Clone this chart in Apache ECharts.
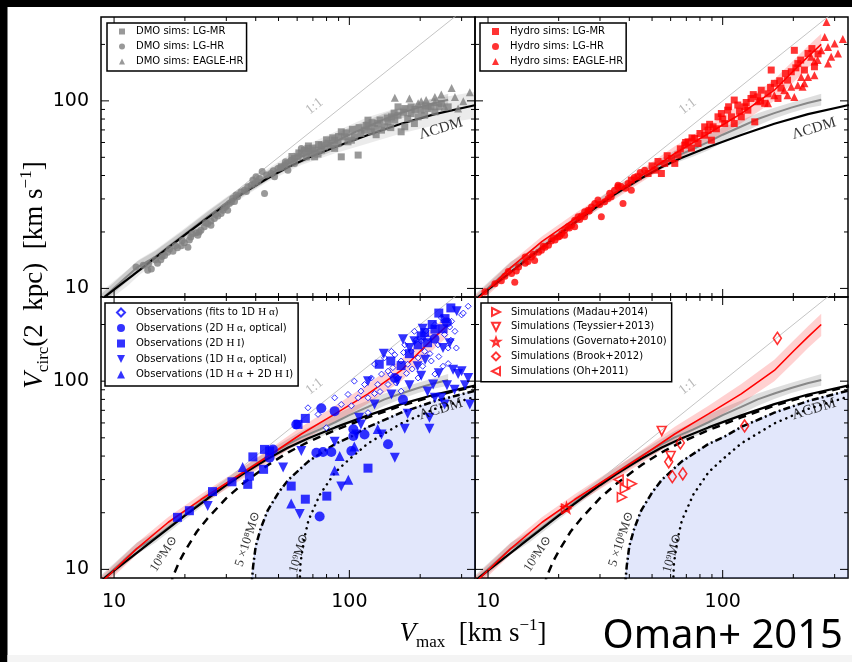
<!DOCTYPE html>
<html><head><meta charset="utf-8">
<script src="https://cdn.jsdelivr.net/npm/echarts@6/dist/echarts.min.js"></script>
<style>html,body{margin:0;padding:0;background:#fff}#c{width:852px;height:662px}</style>
</head><body><div id="c"></div><script>
// ---------- axes ----------
const X_MIN = 8.8, X_MAX = 342, Y_MIN = 9.0, Y_MAX = 280;
const xMajorTicks = [10, 100];
const xMinorTicks = [20, 30, 40, 50, 60, 70, 80, 90, 200, 300];
const yMajorTicks = [10, 100];
const yMinorTicks = [20, 30, 40, 50, 60, 70, 80, 90, 200];
const oneToOne = [8, 400];

// ---------- curves ----------
const lcdmX = [8.8, 10, 12, 15, 20, 25, 30, 35, 40, 45, 55, 67, 87, 120, 166, 231, 345];
const lcdmY = [8.7, 9.85, 11.75, 14.6, 19.3, 23.8, 28.0, 31.9, 35.4, 38.7, 44.4, 49.8, 56.8, 65.8, 75.5, 85.0, 95.0];

const dmoX  = [8.8, 11, 12.5, 15, 20, 25, 30, 35, 45, 55, 62.5, 75, 87, 100, 120, 141, 166, 196, 230, 263];
const dmoY  = [8.7, 11.2, 12.9, 14.8, 19.5, 24.2, 28.6, 32.6, 40.0, 46.3, 50.3, 55.5, 60.5, 66, 73, 80, 86, 92, 97.5, 101.5];
const dmoLo = [8.2, 10.5, 12.0, 13.9, 18.4, 22.8, 27.0, 30.8, 37.6, 43.2, 46.5, 50.5, 54.5, 60, 67, 74, 80.5, 86.5, 91.5, 94.5];
const dmoHi = [9.3, 12.0, 13.9, 15.9, 20.7, 25.7, 30.3, 34.6, 42.5, 49.5, 54.3, 60.5, 66.5, 72, 79, 86, 92, 98, 104, 109];

const dmoWideX  = [8.8, 11.5, 12.8, 15, 20, 25, 30, 35, 45, 62.5, 87, 120, 166, 231, 345];
const dmoWideHi = [9.6, 12.7, 14.3, 16.1, 21.0, 26.0, 30.7, 35.0, 43.5, 56.5, 68.5, 82, 93, 103, 112];
const dmoWideLo = [8.0, 10.4, 11.8, 13.6, 18.0, 22.3, 26.5, 30.3, 37.0, 45.5, 52.5, 59.3, 67, 74.2, 81];

const hydX  = [8.8, 12.5, 17, 23.4, 32.5, 45, 62.5, 87, 120, 166, 202, 231, 263];
const hydY  = [8.5, 12.9, 17.8, 23.5, 30.6, 39.8, 52.4, 67, 85.6, 114, 146, 172, 200];
const hydLo = [7.9, 12.0, 16.6, 21.9, 28.4, 36.8, 48, 60.5, 76, 100, 127, 150, 174];
const hydHi = [9.1, 13.8, 19.0, 25.1, 32.8, 43.0, 57.2, 74, 96.5, 130, 166, 196, 228];

const m8X = [17.3, 18, 19, 20, 22.5, 25, 30, 35, 45, 55, 67, 87, 120, 166, 231, 345];
const m8Y = [8.2, 9.5, 11.1, 12.5, 15.9, 18.7, 23.9, 28.3, 35.8, 41.9, 47.6, 54.9, 64.2, 74.1, 83.7, 93.9];
const m5X = [38.4, 39, 40, 42, 45, 50, 55, 67, 87, 102, 120, 166, 231, 345];
const m5Y = [8.3, 10.4, 13.3, 16.5, 20.6, 25.6, 29.9, 37.5, 46.4, 50.8, 57.1, 68.0, 78.4, 89.2];
const m9X = [61.5, 62, 64, 67, 75, 87, 100, 120, 166, 231, 345];
const m9Y = [8.5, 10.8, 14.2, 18.2, 25.0, 32.8, 38.5, 46.7, 59.6, 71.2, 82.9];

// ---------- DMO points (top left) ----------
const dmoSquares = [[51.4,44.5],[54.8,46.4],[58.5,49.3],[60.5,50.3],[62.5,52.4],[64.5,54.6],[65.6,50.3],[68.9,52.4],[71.2,54.6],[73.6,52.0],[76.0,54.6],[78.5,56.9],[81.1,59.3],[83.8,58.1],[86.6,61.7],[89.5,59.3],[92.4,50.3],[92.4,68.4],[95.5,64.3],[98.7,60.5],[102,61.7],[105,64.3],[109,51.4],[112,67.0],[116,69.8],[120,78.9],[120,72.7],[124,68.4],[128,71.2],[132,75.7],[137,69.8],[141,72.7],[146,77.3],[151,82.2],[156,78.9],[161,83.9],[166,68.4],[172,72.7],[177,80.5],[183,85.6],[189,75.7],[196,82.2],[202,89.2],[209,83.9],[216,91.0],[223,92.9],[231,87.4],[246,97.0],[263,92.9],[161,92.9],[172,91.0],[183,92.9],[71.2,50.3],[76,58.1],[86.6,55.8],[66.7,55.8],
  [57,50.5],[61,52.8],[67,57.5],[70,56],[74,58.5],[80,62.0],[85,63.5],[90,64.5],[97,67.5],[103,70.5],[110,72],[118,74],[125,76.5],[135,79],[145,81],[155,86],[170,87],[190,90],[210,94],[240,93],[150,72],[130,66]];
const dmoCircles = [[12.4,13.0],[13.3,13.3],[13.9,12.5],[14.4,12.7],[15.3,13.6],[15.8,14.2],[16.4,15.0],[16.9,15.6],[17.8,15.8],[18.6,16.5],[19.3,16.9],[19.9,17.5],[20.6,16.6],[20.9,18.1],[21.2,18.8],[22.3,19.8],[22.7,19.2],[23.0,20.0],[23.4,20.4],[24.2,21.3],[25.0,22.2],[25.8,21.7],[25.8,22.9],[26.7,23.6],[27.6,24.3],[28.5,25.1],[29.0,26.1],[30.0,27.4],[30.4,26.1],[30.9,28.4],[31.9,30.2],[32.5,29.1],[33.5,30.8],[34.6,32.7],[35.8,33.4],[37.0,34.8],[38.3,35.5],[38.9,37.8],[40.1,39.4],[40.8,37.1],[42.6,42.0],[43.6,32.1],[46.5,41.0],[48.1,39.4],[49.7,43.6],[53.1,45.5],[54.8,42.7],[56.6,48.3],[58.5,46.4],[62.5,55.8],[66.7,53.5],
  [14.0,13.5],[15.0,14.2],[16.0,14.8],[17.2,16.2],[18.2,16.9],[19.5,18.0],[21.5,19.5],[24.5,22.4],[27.0,24.8],[29.5,27.0],[31.5,28.9],[33.0,31.5],[36.5,32.9],[39.5,36.2],[41.5,38.5],[44.5,40.3],[47.5,42.4],[51,44.0],[53.5,47.4]];
const dmoTriangles = [[156,104],[180,103],[196,97],[212,101],[231,98.6],[246,108],[254,92.9],[272,117],[281,105],[290,91.0],[305,99.5],[325,111],[231,105],[202,99.6]];

// ---------- Hydro points (top right) ----------
const hydSquares = [[40.8,37.8],[43.6,39.4],[48.1,41.0],[51.4,42.7],[54.8,41.0],[56.6,46.4],[60.5,49.3],[62.5,46.4],[64.5,51.4],[68.9,58.1],[71.2,60.5],[73.6,56.0],[76.0,63.0],[78.5,59.3],[83.8,65.6],[86.6,69.8],[89.5,61.7],[91,72.7],[95.5,82.2],[98.7,85.6],[102,75.7],[105,89.2],[109,82.2],[112,75.7],[116,95.0],[120,82.2],[124,92.9],[128,89.2],[137,77.3],[141,105],[146,114],[151,97.0],[156,109],[166,124],[172,103],[177,117],[189,129],[196,143],[202,186],[209,158],[223,146],[231,179],[246,152],[161,146],[112,101],[132,103],[83.8,72.7],
  [50,45],[53,47.5],[58,51],[66,55.5],[69.5,60],[74,63.5],[80,67],[88,75],[94,71],[100,80],[106,93],[118,88],[126,98],[135,108],[145,100],[160,118],[175,128],[185,140],[205,150],[215,165],[240,190],[255,178]];
const hydCircles = [[9.7,9.6],[10.7,10.6],[11.4,11.0],[12.2,12.3],[12.6,12.0],[13.0,10.8],[13.5,13.0],[14.4,13.6],[14.4,14.7],[14.8,13.9],[15.3,14.7],[15.8,14.1],[16.4,15.6],[16.9,16.0],[17.5,16.6],[18.1,17.0],[18.6,17.9],[19.3,18.1],[19.9,18.8],[20.6,19.6],[21.2,20.4],[21.2,19.2],[21.9,21.3],[22.7,21.7],[23.4,23.1],[23.4,21.3],[24.2,24.1],[25.0,24.3],[25.8,25.6],[25.8,24.1],[26.7,26.1],[27.6,27.2],[28.5,28.4],[29.4,29.6],[30.4,24.1],[31.4,29.0],[32.5,30.2],[33.5,30.8],[34.6,33.4],[35.8,34.8],[35.8,35.5],[37.6,28.4],[39.5,36.3],[40.8,33.4],[46.5,42.7],
  [11.8,11.6],[13.2,12.4],[15.6,15.2],[17.2,16.8],[18.9,18.6],[20.2,19.0],[22.2,21.0],[24.6,23.3],[27.0,25.9],[29.9,28.0],[33.0,32.2],[36.9,35.0],[38.5,34.2],[42,39.0],[44.5,41.5]];
const hydTriangles = [[141,99.6],[156,97.0],[166,107],[183,114],[189,107],[196,119],[202,105],[209,121],[219,119],[223,124],[231,134],[246,137],[254,165],[263,186],[272,219],[277,263],[281,194],[290,172],[300,202],[310,179],[325,214],[281,158],[246,162],[216,134],[238,172]];

// ---------- Observations (bottom left) ----------
const obsOpen = [[66.7,72.2],[73.6,66.6],[79.8,56.6],[86.6,81.6],[92.4,75.2],[98.7,85],[105,100],[109,81.6],[112,88.5],[116,96],[120,81.6],[124,104],[128,123],[132,96],[137,109],[141,133],[146,113],[151,144],[153,118],[156,138],[161,104],[166,128],[172,156],[177,123],[183,144],[189,184],[196,133],[202,163],[209,144],[216,170],[223,128],[231,200],[238,156],[246,217],[254,177],[263,150],[272,208],[281,184],[300,225],[320,250],[305,230],[231,109],[263,124],[196,104],[166,88.5],[146,96],[120,68],[267,194],
  [135,88],[158,98],[175,110],[185,116],[205,120],[220,140],[240,135],[250,120],[270,165],[285,150],[212,185],[192,165],[170,142],[150,108],[128,86],[102,74]];
const obsCircles = [[76,71.8],[86.6,69.3],[45.8,39.2],[47.3,43.4],[59.5,58.9],[104,55.5],[104,51.1],[146,46.2],[74.8,19.1],[72.4,41.7],[77.3,42.0],[83.8,42.0],[116,52.1],[102,42.6],[169,79.8],[156,104],[230,168],[260,205]];
const obsSquares = [[18.6,18.9],[20.9,20.5],[26.2,25.9],[31.7,29.2],[37.0,28.3],[37.6,31.3],[38.9,39.6],[43.2,34.0],[43.6,43.4],[45.8,42.6],[56.6,27.7],[65,23.6],[80.2,24.5],[120,34.5],[65,63.4],[60.5,58.9],[134,123],[270,245],[202,174],[209,181],[196,156],[166,121],[231,189],
  [240,230],[255,215],[225,200],[250,190],[215,160],[180,140],[150,128]];
const obsTriDown = [[25.0,21.7],[61.5,19.7],[52.3,34.8],[62.5,42.6],[86.6,47.7],[92.4,27.6],[107,52.1],[112,58.9],[137,52.1],[156,39.2],[172,55.8],[219,63.9],[219,55.8],[231,81.6],[276,115],[320,104],[325,75.2],[267,159],[286,235],[169,167],[189,163],[227,96],[246,81.6],[254,75.2],[202,107],[151,84.9],[128,75.2],[177,67.2],[290,109],[300,113],
  [140,140],[160,100],[180,95],[195,120],[210,130],[240,110],[260,95],[280,90],[310,95],[250,150],[205,190],[180,150],[215,88],[120,100],[110,64]];
const obsTriUp = [[35.2,35.0],[56.6,22.4],[86.6,33.5],[99,29.9],[91,40.0],[105,45.0],[132,55.7]];

// ---------- Simulations (bottom right) ----------
const simMadau = [[38.3,26.8],[37.2,24.2],[41,28.5],[21.5,21.0]];
const simTeyssier = [[55,54.4],[60,40]];
const simGovernato = [[21.6,21.2]];
const simBrook = [[171,169],[124,57.8],[58.9,37.3],[61,31.1],[67.6,32.2],[66,47]];
const simOh = [[36,30]];

// ---------- text anchors ----------
const lab11 = [71, 93.5];
const labLcdm = [245, 71];
const lab8 = [16.3, 12.1];
const lab5 = [37, 14.5];
const lab9 = [61, 12.2];

// =====================================================
const SERIF = "'Liberation Serif','DejaVu Serif',serif";
const SANS = "'DejaVu Sans',sans-serif";
const pairs = (xs, ys) => xs.map((x, i) => [x, ys[i]]);
const grids = [
  {left: 101, top: 17, width: 374, height: 280},
  {left: 475, top: 17, width: 373, height: 280},
  {left: 101, top: 297, width: 374, height: 281},
  {left: 475, top: 297, width: 373, height: 281}
].map(g => Object.assign(g, {show: true, borderColor: '#000', borderWidth: 1.5, backgroundColor: 'transparent', containLabel: false}));

const decadeFmt = v => { const l = Math.log10(v); return Math.abs(l - Math.round(l)) < 1e-6 ? String(Math.round(v)) : ''; };
const xAxes = [0, 1, 2, 3].map(i => ({
  type: 'log', logBase: 10, gridIndex: i, min: X_MIN, max: X_MAX,
  axisLine: {show: false}, axisTick: {show: false}, splitLine: {show: false},
  axisLabel: {show: i >= 2, formatter: decadeFmt, fontSize: 19, fontFamily: SANS, color: '#000', margin: 15}
}));
const yAxes = [0, 1, 2, 3].map(i => ({
  type: 'log', logBase: 10, gridIndex: i, min: Y_MIN, max: Y_MAX,
  axisLine: {show: false}, axisTick: {show: false}, splitLine: {show: false},
  axisLabel: {show: i % 2 === 0, formatter: decadeFmt, fontSize: 19, fontFamily: SANS, color: '#000', margin: 12}
}));

function tickSeries(g) {
  return {
    type: 'custom', xAxisIndex: g, yAxisIndex: g, silent: true, z: 6, clip: false, animation: false,
    data: [[X_MIN, Y_MIN]],
    renderItem: function (params, api) {
      const ch = [];
      const st = {stroke: '#000', lineWidth: 1};
      const addX = (v, len) => {
        const b = api.coord([v, Y_MIN]), t = api.coord([v, Y_MAX]);
        ch.push({type: 'line', shape: {x1: b[0], y1: b[1], x2: b[0], y2: b[1] - len}, style: st});
        ch.push({type: 'line', shape: {x1: t[0], y1: t[1], x2: t[0], y2: t[1] + len}, style: st});
      };
      const addY = (v, len) => {
        const l = api.coord([X_MIN, v]), r = api.coord([X_MAX, v]);
        ch.push({type: 'line', shape: {x1: l[0], y1: l[1], x2: l[0] + len, y2: l[1]}, style: st});
        ch.push({type: 'line', shape: {x1: r[0], y1: r[1], x2: r[0] - len, y2: r[1]}, style: st});
      };
      xMajorTicks.forEach(v => addX(v, 8)); xMinorTicks.forEach(v => addX(v, 4));
      yMajorTicks.forEach(v => addY(v, 8)); yMinorTicks.forEach(v => addY(v, 4));
      return {type: 'group', children: ch};
    }
  };
}
function bandSeries(g, xs, lo, hi, fill, z) {
  return {
    type: 'custom', xAxisIndex: g, yAxisIndex: g, silent: true, z: z || 1, clip: true, animation: false,
    data: [[xs[0], lo[0]]],
    renderItem: function (params, api) {
      const pts = [];
      for (let i = 0; i < xs.length; i++) pts.push(api.coord([xs[i], hi[i]]));
      for (let i = xs.length - 1; i >= 0; i--) pts.push(api.coord([xs[i], lo[i]]));
      return {type: 'polygon', shape: {points: pts}, style: {fill: fill}};
    }
  };
}
function shadeSeries(g) {
  return {
    type: 'custom', xAxisIndex: g, yAxisIndex: g, silent: true, z: 0, clip: true, animation: false,
    data: [[m5X[0], m5Y[0]]],
    renderItem: function (params, api) {
      const pts = m5X.map((x, i) => api.coord([x, m5Y[i]]));
      pts.push(api.coord([m5X[m5X.length - 1], Y_MIN * 0.8]));
      pts.push(api.coord([m5X[0], Y_MIN * 0.8]));
      return {type: 'polygon', shape: {points: pts}, style: {fill: 'rgba(110,135,235,0.2)', stroke: 'rgba(110,135,235,0.35)', lineWidth: 1}};
    }
  };
}
function lineSeries(g, xs, ys, color, width, type, z, cap) {
  return {type: 'line', xAxisIndex: g, yAxisIndex: g, data: pairs(xs, ys), symbol: 'none', silent: true, animation: false,
    clip: true, z: z || 2, lineStyle: {color: color, width: width, type: type || 'solid', cap: cap || 'butt'}};
}
function scatterSeries(g, name, data, symbol, size, style, z) {
  return {type: 'scatter', name: name, xAxisIndex: g, yAxisIndex: g, data: data, symbol: symbol, symbolSize: size,
    itemStyle: style, silent: true, animation: false, z: z || 3, clip: true};
}
function labelSeries(g, pos, text, rot, color, size, rich) {
  return {type: 'scatter', xAxisIndex: g, yAxisIndex: g, data: [pos], symbolSize: 1, itemStyle: {color: 'transparent'},
    silent: true, animation: false, z: 4,
    label: {show: true, position: 'inside', formatter: text, rotate: rot, color: color, fontSize: size, fontFamily: SERIF, rich: rich || {}}};
}
const triRight = 'path://M0,0L10,5L0,10Z';
const triLeft = 'path://M10,0L0,5L10,10Z';
const triDown = 'path://M0,0L10,0L5,10Z';
const star = 'path://M5,0L6.2,3.6L10,3.6L7,5.9L8.1,9.5L5,7.3L1.9,9.5L3,5.9L0,3.6L3.8,3.6Z';

const series = [];
[2, 3].forEach(g => series.push(shadeSeries(g)));
series.push(bandSeries(0, dmoWideX, dmoWideLo, dmoWideHi, 'rgba(0,0,0,0.08)', 1));
[0, 1, 2, 3].forEach(g => series.push(bandSeries(g, dmoX, dmoLo, dmoHi, 'rgba(0,0,0,0.13)', 1)));
[1, 2, 3].forEach(g => series.push(bandSeries(g, hydX, hydLo, hydHi, 'rgba(255,0,0,0.18)', 1)));
[0, 1, 2, 3].forEach(g => {
  series.push(lineSeries(g, oneToOne, oneToOne, '#c4c4c4', 1, 'solid', 2));
  series.push(lineSeries(g, dmoX, dmoY, '#888888', 2, 'solid', 2));
  series.push(lineSeries(g, lcdmX, lcdmY, '#000', 2.2, 'solid', 2));
  series.push(labelSeries(g, lab11, '1:1', 38.7, '#a8a8a8', 14));
  series.push(labelSeries(g, labLcdm, 'ΛCDM', 17, '#000', 15));
  series.push(tickSeries(g));
});
[1, 2, 3].forEach(g => series.push(lineSeries(g, hydX, hydY, '#ff0000', 1.6, 'solid', 2)));
[2, 3].forEach(g => {
  series.push(lineSeries(g, m8X, m8Y, '#000', 2.5, [8, 6], 2));
  series.push(lineSeries(g, m5X, m5Y, '#000', 2.5, [7, 3, 2, 3], 2));
  series.push(lineSeries(g, m9X, m9Y, '#000', 2.5, [0.1, 6], 2, 'round'));
  series.push(labelSeries(g, lab8, '10⁸M⊙', 57, '#000', 13));
  series.push(labelSeries(g, lab5, '5 ×10⁸M⊙', 72, '#000', 13));
  series.push(labelSeries(g, lab9, '10⁹M⊙', 74, '#000', 13));
});
const gray = {color: '#7f7f7f'};
series.push(scatterSeries(0, 'DMO sims: LG-MR', dmoSquares, 'rect', 7, gray));
series.push(scatterSeries(0, 'DMO sims: LG-HR', dmoCircles, 'circle', 7, gray));
series.push(scatterSeries(0, 'DMO sims: EAGLE-HR', dmoTriangles, 'triangle', 8, gray));
const red = {color: '#ff0000'};
series.push(scatterSeries(1, 'Hydro sims: LG-MR', hydSquares, 'rect', 7, red));
series.push(scatterSeries(1, 'Hydro sims: LG-HR', hydCircles, 'circle', 7, red));
series.push(scatterSeries(1, 'Hydro sims: EAGLE-HR', hydTriangles, 'triangle', 8, red));
const blue = {color: '#0000ff'};
series.push(scatterSeries(2, 'Observations (fits to 1D H α)', obsOpen, 'diamond', 6, {color: '#fff', borderColor: '#0000ff', borderWidth: 1}));
series.push(scatterSeries(2, 'Observations (2D H α, optical)', obsCircles, 'circle', 10, blue));
series.push(scatterSeries(2, 'Observations (2D H I)', obsSquares, 'rect', 9, blue));
series.push(scatterSeries(2, 'Observations (1D H α, optical)', obsTriDown, triDown, 10, blue));
series.push(scatterSeries(2, 'Observations (1D H α + 2D H I)', obsTriUp, 'triangle', 10, blue));
const hollow = {color: 'rgba(255,255,255,0)', borderColor: '#ff0000', borderWidth: 1.6};
series.push(scatterSeries(3, 'Simulations (Madau+2014)', simMadau, triRight, 9, hollow));
series.push(scatterSeries(3, 'Simulations (Teyssier+2013)', simTeyssier, triDown, 9, hollow));
series.push(scatterSeries(3, 'Simulations (Governato+2010)', simGovernato, star, 10, hollow));
series.push(scatterSeries(3, 'Simulations (Brook+2012)', simBrook, 'diamond', [8, 12], hollow));
series.push(scatterSeries(3, 'Simulations (Oh+2011)', simOh, triLeft, 9, hollow));

function legend(left, top, names, padding, gap, icon) {
  return {
    left: left, top: top, orient: 'vertical', data: names, padding: padding, itemGap: gap,
    itemWidth: icon, itemHeight: icon, borderColor: '#000', borderWidth: 1.5, backgroundColor: '#fff', borderRadius: 0,
    selectedMode: false, z: 10,
    textStyle: {fontSize: 10, fontFamily: SANS, color: '#000', lineHeight: 13, padding: [0, 0, 0, 6],
      rich: {m: {fontSize: 11, fontFamily: SERIF, color: '#000', lineHeight: 13}}},
    formatter: n => n.replace(/H α|H I/g, s => '{m|' + s + '}')
  };
}
const legends = [
  legend(107, 23, ['DMO sims: LG-MR', 'DMO sims: LG-HR', 'DMO sims: EAGLE-HR'], [2, 3, 3, 12], 2, 6),
  legend(480, 23, ['Hydro sims: LG-MR', 'Hydro sims: LG-HR', 'Hydro sims: EAGLE-HR'], [2, 3, 3, 12], 2, 7),
  legend(105, 303, ['Observations (fits to 1D H α)', 'Observations (2D H α, optical)', 'Observations (2D H I)', 'Observations (1D H α, optical)', 'Observations (1D H α + 2D H I)'], [3, 5, 5, 11], 2.5, 8),
  legend(481, 303, ['Simulations (Madau+2014)', 'Simulations (Teyssier+2013)', 'Simulations (Governato+2010)', 'Simulations (Brook+2012)', 'Simulations (Oh+2011)'], [2.5, 5, 4, 10], 1.8, 8)
];

const titleRich = {
  v: {fontSize: 27, fontFamily: SERIF, fontStyle: 'italic', lineHeight: 34, fill: '#000'},
  n: {fontSize: 27, fontFamily: SERIF, lineHeight: 34, fill: '#000'},
  sub: {fontSize: 17, fontFamily: SERIF, lineHeight: 17, verticalAlign: 'bottom', fill: '#000'},
  sup: {fontSize: 17, fontFamily: SERIF, lineHeight: 17, verticalAlign: 'top', fill: '#000'}
};
const graphics = [
  {type: 'rect', shape: {x: 0, y: 0, width: 852, height: 7}, style: {fill: '#000'}, z: 100},
  {type: 'rect', shape: {x: 0, y: 0, width: 7.5, height: 662}, style: {fill: '#000'}, z: 100},
  {type: 'rect', shape: {x: 7.5, y: 655, width: 845, height: 7}, style: {fill: '#f4f4f4'}, z: 100},
  {type: 'text', x: 35, y: 275, rotation: Math.PI / 2, z: 100,
    style: {text: '{v|V}{sub|circ}{n|(2  kpc)  [km s}{sup|−1}{n|]}', rich: titleRich, align: 'center', verticalAlign: 'middle', textAlign: 'center', textVerticalAlign: 'middle'}},
  {type: 'text', x: 473, y: 634, z: 100,
    style: {text: '{v|V}{sub|max}{n|  [km s}{sup|−1}{n|]}', rich: titleRich, align: 'center', verticalAlign: 'middle', textAlign: 'center', textVerticalAlign: 'middle'}},
  {type: 'text', x: 843, y: 637, z: 100,
    style: {text: 'Oman+ 2015', fontSize: 40, fontFamily: "'Noto Sans','Open Sans',sans-serif", fill: '#000', align: 'right', verticalAlign: 'middle', textAlign: 'right', textVerticalAlign: 'middle'}}
];

const chart = echarts.init(document.getElementById('c'), null, {renderer: 'canvas'});
chart.setOption({
  backgroundColor: '#fff', animation: false,
  grid: grids, xAxis: xAxes, yAxis: yAxes, legend: legends, series: series, graphic: graphics
});
</script></body></html>
